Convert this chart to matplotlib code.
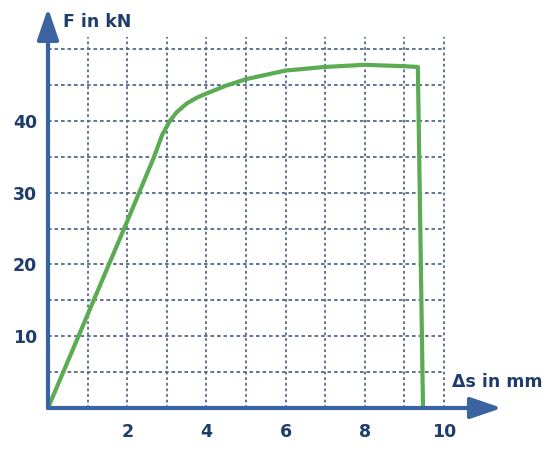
import matplotlib.pyplot as plt
from matplotlib.patches import FancyArrowPatch

# force-displacement curve
s_mm = [0, 1.0, 2.0, 2.68, 2.88, 3.08, 3.25, 3.5, 3.75, 4.0, 4.5, 5.0, 5.5, 6.0, 7.0, 8.0, 9.0, 9.34, 9.47]
f_kn = [0, 13.0, 26.0, 35.0, 38.0, 40.0, 41.2, 42.4, 43.2, 43.8, 44.9, 45.8, 46.4, 47.0, 47.5, 47.8, 47.6, 47.5, 0]

x_ticks = [2, 4, 6, 8, 10]
y_ticks = [10, 20, 30, 40]
x_grid = [1, 2, 3, 4, 5, 6, 7, 8, 9, 10]
y_grid = [5, 10, 15, 20, 25, 30, 35, 40, 45, 50]

axis_col = "#3b63a0"
text_col = "#1e3d6b"
grid_col = "#54698a"
line_col = "#5aab52"

fig = plt.figure(figsize=(5.5, 4.5), dpi=100)
ax = fig.add_axes([48 / 550, 42 / 450, 502 / 550, 408 / 450])
ax.set_xlim(0, 502 / 39.6)
ax.set_ylim(0, 408 / 7.18)
for sp in ax.spines.values():
    sp.set_visible(False)

# dashed grid
ax.vlines(x_grid, 0, 51.7, colors=grid_col, linestyles=(0, (1.5, 1.6)), lw=1.3, zorder=1)
ax.hlines(y_grid, 0, 10, colors=grid_col, linestyles=(0, (2.0, 1.6)), lw=1.3, zorder=1)

ax.plot(s_mm, f_kn, color=line_col, lw=3, solid_joinstyle="round", zorder=3)

# axes with arrows
style = "-|>,head_length=19,head_width=6.5"
ax.add_patch(FancyArrowPatch((0, 0), (11.46, 0), arrowstyle=style, mutation_scale=1,
                             color=axis_col, lw=3, shrinkA=0, shrinkB=0, zorder=4, clip_on=False))
ax.add_patch(FancyArrowPatch((0, 0), (0, 55.7), arrowstyle=style, mutation_scale=1,
                             color=axis_col, lw=3, shrinkA=0, shrinkB=0, zorder=4, clip_on=False))

ax.set_xticks(x_ticks)
ax.set_yticks(y_ticks)
ax.tick_params(length=0, labelcolor=text_col, labelsize=12.5)
ax.tick_params(axis="x", pad=11)
ax.tick_params(axis="y", pad=8)
for lab in ax.get_xticklabels() + ax.get_yticklabels():
    lab.set_fontweight("bold")

ax.text(0.38, 53.8, "F in kN", color=text_col, fontsize=12.5, fontweight="bold", va="center", ha="left")
ax.text(10.2, 3.6, "Δs in mm", color=text_col, fontsize=12.5, fontweight="bold", va="center", ha="left")

fig.savefig("out.png", dpi=100)
